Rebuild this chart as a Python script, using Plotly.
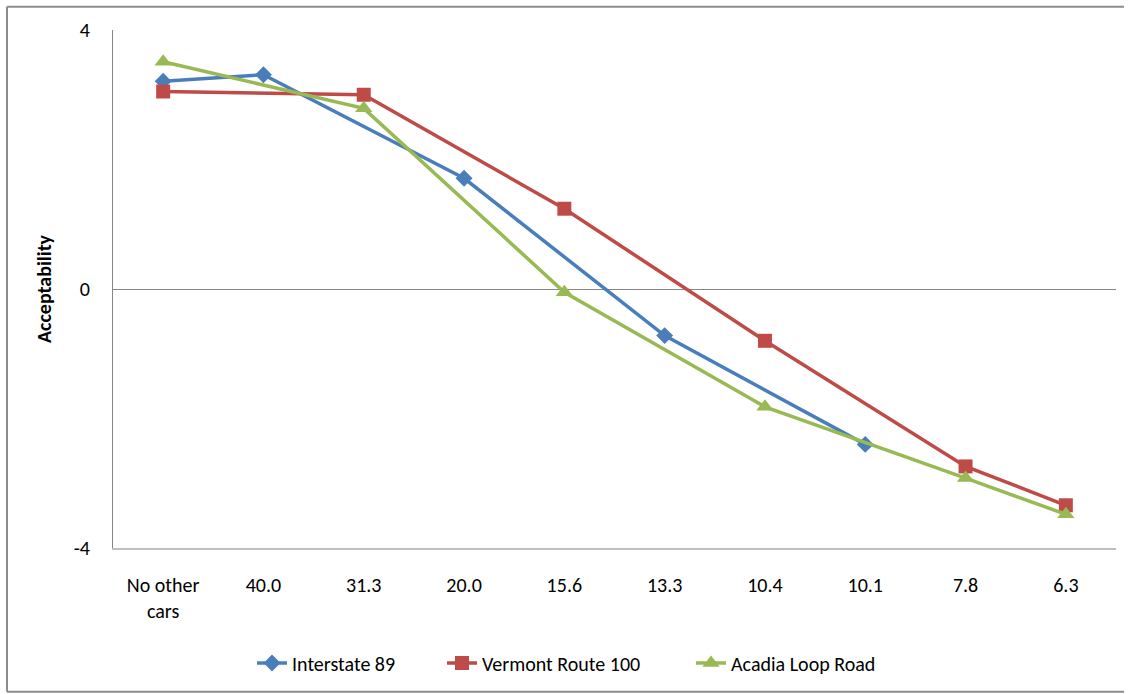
import plotly.graph_objects as go

categories = ["No other<br>cars", "40.0", "31.3", "20.0", "15.6", "13.3", "10.4", "10.1", "7.8", "6.3"]
interstate_89 = [3.21, 3.31, None, 1.71, None, -0.72, None, -2.40, None, None]
vermont_route_100 = [3.05, None, 3.00, None, 1.24, None, -0.80, None, -2.74, -3.34]
acadia_loop_road = [3.51, None, 2.79, None, -0.05, None, -1.82, None, -2.92, -3.48]
y_ticks = [-4, 0, 4]

FONT = "Carlito, Calibri, Lato, 'Open Sans', sans-serif"
FS = 20

fig = go.Figure()
fig.add_trace(go.Scatter(
    x=categories, y=interstate_89, name="Interstate 89", mode="lines+markers",
    connectgaps=True, legend="legend",
    line=dict(color="#4A7EBB", width=3.5),
    marker=dict(symbol="diamond", size=13, color="#4A7EBB"),
))
fig.add_trace(go.Scatter(
    x=categories, y=vermont_route_100, name="Vermont Route 100", mode="lines+markers",
    connectgaps=True, legend="legend2",
    line=dict(color="#BE4B48", width=3.5),
    marker=dict(symbol="square", size=14, color="#BE4B48"),
))
fig.add_trace(go.Scatter(
    x=categories, y=acadia_loop_road, name="Acadia Loop Road", mode="lines+markers",
    connectgaps=True, legend="legend3",
    line=dict(color="#98B954", width=3.5),
    marker=dict(symbol="triangle-up", size=15, color="#98B954"),
))

legend_style = dict(orientation="h", xanchor="left", y=-0.222, yanchor="middle",
                    font=dict(family=FONT, size=FS, color="black"),
                    bgcolor="rgba(0,0,0,0)")

# outer chart frame (right side runs off the picture)
fx0 = (7 - 113) / 1003
fx1 = (1124 - 113) / 1003
fy0 = (548 - 692) / 518.6
fy1 = (548 - 6) / 518.6
frame = dict(color="#8C8C8C", width=2)
shapes = [
    dict(type="line", xref="paper", yref="paper", x0=fx0, x1=fx0, y0=fy0, y1=fy1, line=frame, layer="below"),
    dict(type="line", xref="paper", yref="paper", x0=fx0, x1=fx1, y0=fy1, y1=fy1, line=frame, layer="below"),
    dict(type="line", xref="paper", yref="paper", x0=fx0, x1=fx1, y0=fy0, y1=fy0, line=frame, layer="below"),
]

fig.update_layout(
    width=1131, height=694,
    margin=dict(l=113, r=15, t=30, b=146),
    paper_bgcolor="white", plot_bgcolor="white",
    font=dict(family=FONT, size=FS, color="black"),
    showlegend=True,
    legend=dict(x=0.1386, **legend_style),
    legend2=dict(x=0.328, **legend_style),
    legend3=dict(x=0.5763, **legend_style),
    xaxis=dict(
        type="category", range=[-0.5, 9.5],
        showgrid=False, zeroline=False,
        showline=True, linecolor="#BFBFBF", linewidth=1.5,
        ticks="", ticklabelstandoff=18,
        tickfont=dict(family=FONT, size=FS, color="black"),
    ),
    yaxis=dict(
        range=[-4, 4], tickvals=y_ticks, ticktext=[str(v) for v in y_ticks],
        showgrid=True, gridcolor="#BFBFBF", gridwidth=1.5,
        zeroline=True, zerolinecolor="#868686", zerolinewidth=1.2,
        showline=True, linecolor="#868686", linewidth=1.2,
        ticks="", ticklabelstandoff=18,
        tickfont=dict(family=FONT, size=FS, color="black"),
        title=dict(text="<b>Acceptability</b>", standoff=16,
                   font=dict(family=FONT, size=FS, color="black")),
    ),
    shapes=shapes,
)

fig.write_html("out.html")
